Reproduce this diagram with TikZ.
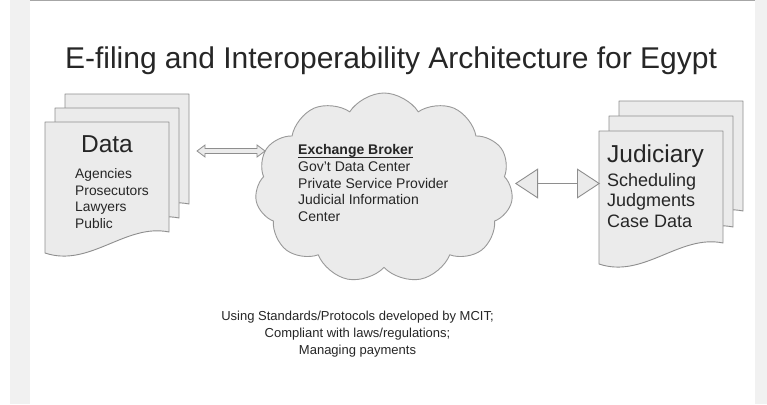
\documentclass[tikz,border=0pt]{standalone}
\usepackage{fontspec}
\setmainfont{Liberation Sans}
\usetikzlibrary{shapes.symbols,arrows.meta,calc}
\definecolor{docfill}{HTML}{EBEBEB}
\definecolor{docline}{HTML}{8E8E8E}
\definecolor{txt}{HTML}{262626}
\definecolor{strip}{HTML}{F1F1F1}
\begin{document}
\begin{tikzpicture}[x=1pt,y=-1pt,
  doc/.style={fill=docfill,draw=docline,line width=0.9pt,line join=round},
  lbl/.style={inner sep=0pt,text=txt},
  hdr/.style={lbl,font=\fontsize{24.5}{28}\selectfont},
]
\useasboundingbox (0,0) rectangle (767,404);
\fill[white] (0,0) rectangle (767,404);
\fill[strip] (10,0) rectangle (30,404);
\fill[strip] (755,0) rectangle (767,404);
\draw[black!35,line width=1pt] (30,1) -- (755,1);

% title
\node[lbl,anchor=base,font=\fontsize{30}{36}\selectfont] (title) at (391,68.3)
  {E-filing and Interoperability Architecture for Egypt};

% document shape macro: #1 = x, #2 = y (top-left), #3 width, #4 right height
\newcommand{\docshape}[4]{%
  \draw[doc] (#1,#2) -- ++(#3,0) -- ++(0,#4)
    .. controls ++(-0.35*#3,-9) and ++(0.36*#3,15) .. ++(-#3,21)
    -- cycle;}

% left stack
\docshape{65}{94}{124}{110}
\docshape{55}{108}{124}{110}
\docshape{45}{122}{124}{110}
\node[hdr,anchor=base] (datah) at (107,152) {Data};
\node[lbl,anchor=north west,align=left,font=\fontsize{13.8}{16.7}\selectfont] (datal) at (75,168.2)
  {Agencies\\Prosecutors\\Lawyers\\Public};

% right stack
\docshape{619}{101}{124}{110}
\docshape{609}{116}{124}{111}
\docshape{599}{131}{124}{112}
\node[hdr,anchor=base west] (judh) at (607,162) {Judiciary};
\node[lbl,anchor=north west,align=left,font=\fontsize{18}{20.6}\selectfont] (judl) at (607,173)
  {Scheduling\\Judgments\\Case Data};

% cloud
\node[cloud,cloud puffs=11,cloud puff arc=115,aspect=1.36,
  minimum width=258,minimum height=190,inner sep=0pt,
  fill=docfill,draw=docline!90,line width=0.9pt] (cloud) at (384,188) {};
\node[lbl,anchor=north west,align=left,font=\fontsize{14}{16.6}\selectfont] (cloudt) at (298,144.5)
  {\textbf{Exchange Broker}\\Gov't Data Center\\Private Service Provider\\Judicial Information\\Center};
\draw[txt,line width=0.9pt] ($(cloudt.north west)+(0,13.2)$) -- ++(115,0);

% left double arrow (hollow, double shaft)
\coordinate (la) at (197,151);
\coordinate (lb) at (265,151);
\draw[fill=docfill,draw=docline,line width=0.8pt,line join=miter]
  (la) -- ($(la)+(8,-6)$) -- ($(la)+(8,-2.5)$) -- ($(lb)+(-8,-2.5)$) -- ($(lb)+(-8,-6)$)
  -- (lb) -- ($(lb)+(-8,6)$) -- ($(lb)+(-8,2.5)$) -- ($(la)+(8,2.5)$) -- ($(la)+(8,6)$) -- cycle;

% right double arrow (large hollow heads)
\coordinate (ra) at (515,183.5);
\coordinate (rb) at (600,183.5);
\draw[docline,line width=0.9pt,
  {Triangle[length=23pt,width=30pt,fill=docfill,line width=0.9pt]}-{Triangle[length=23pt,width=30pt,fill=docfill,line width=0.9pt]}]
  (ra) -- (rb);

% bottom text
\node[lbl,anchor=north,align=center,font=\fontsize{13}{17}\selectfont] (note) at (357.5,310.5)
  {Using Standards/Protocols developed by MCIT;\\Compliant with laws/regulations;\\Managing payments};
\end{tikzpicture}
\end{document}
